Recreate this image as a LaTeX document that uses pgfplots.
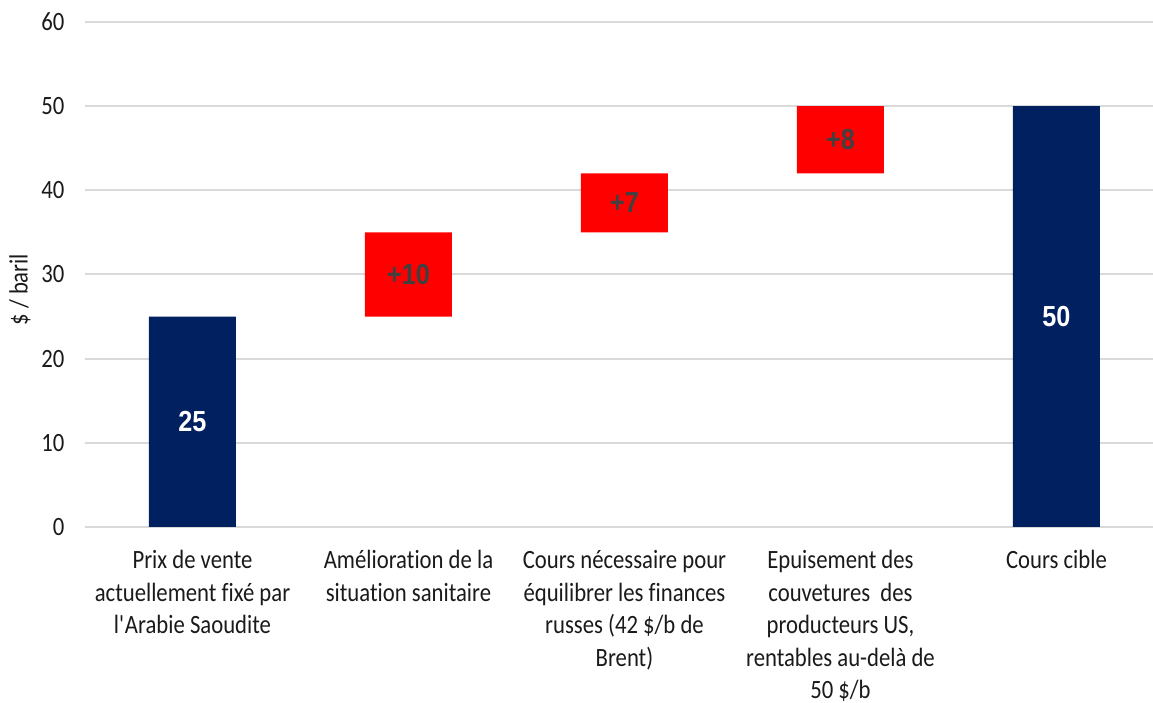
\documentclass[border=0pt]{standalone}
\usepackage{fontspec}
\setmainfont{Carlito}[FakeStretch=0.86, Ligatures=NoCommon]
\newfontfamily\arialf{Liberation Sans}[FakeStretch=0.87]
\usepackage{pgfplots}
\pgfplotsset{compat=1.18}
\usepackage{pgfplotstable}
\usetikzlibrary{calc}
\definecolor{navy}{HTML}{002060}
\definecolor{lbl}{HTML}{404040}
\definecolor{gridc}{HTML}{D9D9D9}
\definecolor{txt}{HTML}{1A1A1A}

\pgfplotstableread{
x base blue red
0 0 25 0
1 25 0 10
2 35 0 7
3 42 0 8
4 0 50 0
}\wf

\pgfplotstableread{
x y lab
0 12.5 25
4 25 50
}\bluelab

\pgfplotstableread{
x y lab
1 30 +10
2 38.5 +7
3 46 +8
}\redlab

\begin{document}
\begin{tikzpicture}[font=\fontsize{13.2}{16.5}\selectfont]
\pgfplotsset{common/.style={scale only axis, width=534.25pt, height=252.5pt,
  xmin=-0.5, xmax=4.447, ymin=0, ymax=60}}
\begin{axis}[common, ybar stacked, bar width=43.5pt,
  axis line style={draw=none}, tick style={draw=none},
  ymajorgrids, grid style={gridc, line width=1pt},
  ytick={0,10,...,60}, xtick={0,1,2,3,4},
  xticklabels={{Prix de vente\\actuellement fixé par\\l\textquotesingle Arabie Saoudite},
    {Amélioration de la\\situation sanitaire},
    {Cours nécessaire pour\\équilibrer les finances\\russes (42 \$/b de\\Brent)},
    {Epuisement des\\couvetures\ \ des\\producteurs US,\\rentables au-delà de\\50 \$/b},
    {Cours cible}},
  xticklabel style={align=center, text=txt,
    font=\fontsize{13.2}{16.2}\selectfont, yshift=-8.3pt},
  yticklabel style={/pgf/number format/assume math mode=true, text=txt,
    font=\fontsize{13.2}{16.5}\selectfont, xshift=-6.5pt},
  ylabel={\$ / baril},
  ylabel style={at={(axis description cs:-0.0604,0.47)}, anchor=center, text=txt,
    font=\fontsize{13.2}{16.5}\selectfont},
]
\addplot[fill=none, draw=none] table[x=x, y=base]{\wf};
\addplot[fill=navy, draw=none] table[x=x, y=blue]{\wf};
\addplot[fill=red, draw=none] table[x=x, y=red]{\wf};
\end{axis}
\begin{axis}[common, hide axis]
\addplot[draw=none, nodes near coords, point meta=explicit symbolic,
  nodes near coords style={anchor=center, text=white, font=\arialf\bfseries\fontsize{14.5}{17}\selectfont}]
  table[x=x, y=y, meta=lab]{\bluelab};
\addplot[draw=none, nodes near coords, point meta=explicit symbolic,
  nodes near coords style={anchor=center, text=lbl, font=\arialf\bfseries\fontsize{14.5}{17}\selectfont}]
  table[x=x, y=y, meta=lab]{\redlab};
\end{axis}
\pgfresetboundingbox
\path ($(current axis.south west)+(-42.25pt,-88pt)$) rectangle ($(current axis.north east)+(0,11pt)$);
\end{tikzpicture}
\end{document}
